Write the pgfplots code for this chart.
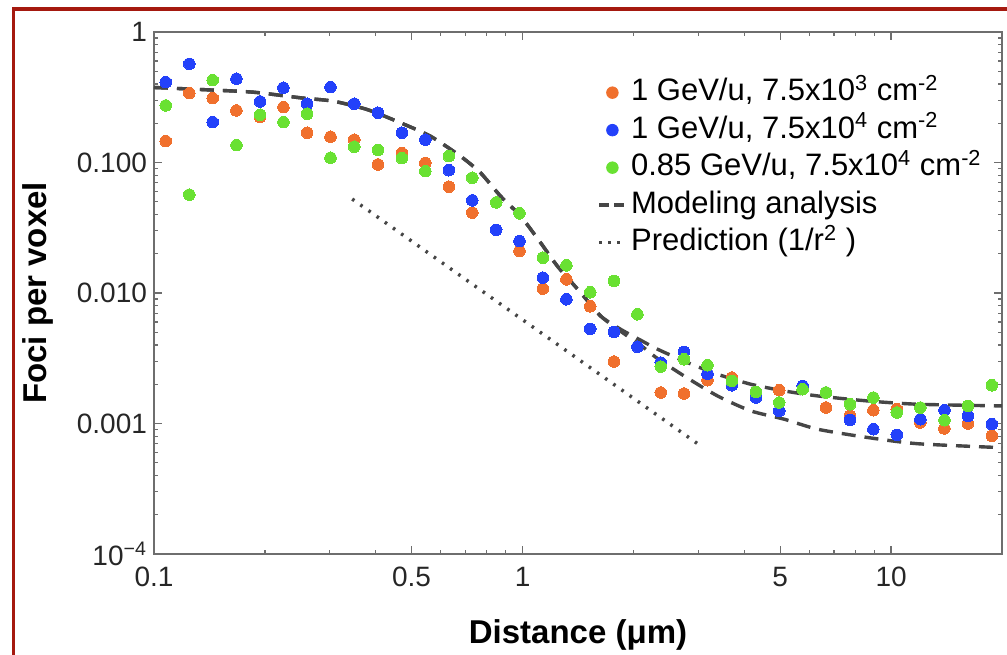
\documentclass[border=0pt]{standalone}
\usepackage{fontspec}
\setmainfont{Liberation Sans}
\usepackage{pgfplots}
\pgfplotsset{compat=1.18}
\definecolor{oC}{RGB}{240,112,45}
\definecolor{bC}{RGB}{35,65,250}
\definecolor{gC}{RGB}{105,225,50}
\definecolor{frameC}{RGB}{165,25,15}
\definecolor{lineC}{RGB}{70,70,70}
\definecolor{axC}{RGB}{110,110,110}

\pgfplotstableread{
x y
0.1076 0.1459
0.1247 0.3400
0.1443 0.3113
0.1674 0.2505
0.1941 0.2235
0.2245 0.2656
0.2604 0.1691
0.3013 0.1576
0.3495 0.1495
0.4053 0.0967
0.4707 0.1180
0.5449 0.0993
0.6313 0.0653
0.7306 0.0413
0.9814 0.02098
1.1355 0.01081
1.3153 0.01273
1.5264 0.00791
1.7704 0.002983
2.3714 0.001728
2.7438 0.001697
3.1761 0.002146
3.6976 0.002250
4.9718 0.001799
6.6584 0.001326
7.7388 0.001143
8.9514 0.001264
10.363 0.001287
12.012 0.001018
13.960 0.000916
16.159 0.001000
18.774 0.000804
}\orangedata

\pgfplotstableread{
x y
0.1076 0.4126
0.1247 0.5707
0.1443 0.2039
0.1674 0.4383
0.1941 0.2937
0.2245 0.3738
0.2604 0.2820
0.3013 0.3778
0.3495 0.2820
0.4053 0.2406
0.4707 0.1691
0.5449 0.1497
0.6313 0.0873
0.7306 0.0513
0.8484 0.03048
0.9814 0.02501
1.1355 0.01312
1.3153 0.00895
1.5264 0.00531
1.7704 0.005028
2.0498 0.003873
2.3714 0.002931
2.7438 0.003534
3.1761 0.002414
3.6976 0.001965
4.2973 0.001581
4.9718 0.001249
5.7550 0.001941
6.6584 0.001728
7.7388 0.001066
8.9514 0.000904
10.363 0.000818
12.012 0.001079
13.960 0.001264
16.159 0.001143
18.774 0.000988
}\bluedata

\pgfplotstableread{
x y
0.1076 0.2737
0.1247 0.0567
0.1443 0.4275
0.1674 0.1359
0.1941 0.2323
0.2245 0.2039
0.2604 0.2364
0.3013 0.1088
0.3495 0.1321
0.4053 0.1244
0.4707 0.1080
0.5449 0.0858
0.6313 0.1119
0.7306 0.0765
0.8484 0.0495
0.9814 0.0408
1.1355 0.01867
1.3153 0.01630
1.5264 0.01013
1.7704 0.01235
2.0498 0.00687
2.3714 0.002732
2.7438 0.003108
3.1761 0.002796
3.6976 0.002119
4.2973 0.001746
4.9718 0.001448
5.7550 0.001831
6.6584 0.001728
7.7388 0.001405
8.9514 0.001581
10.363 0.001214
12.012 0.001326
13.960 0.001060
16.159 0.001364
18.774 0.001965
}\greendata

\pgfplotstableread{
x y
0.1 0.3758
0.1334 0.3628
0.1858 0.346
0.2493 0.3134
0.3065 0.2952
0.3784 0.2550
0.4664 0.2017
0.5623 0.1592
0.6783 0.1119
0.7689 0.0835
0.8713 0.0553
0.9876 0.03887
1.1192 0.02431
1.2430 0.01609
1.4378 0.01007
1.6293 0.00666
1.846 0.005273
2.0932 0.004343
2.3274 0.003705
2.8025 0.002931
3.3815 0.002385
4.1653 0.001999
5.1299 0.001777
6.3225 0.001627
8.6437 0.001489
11.818 0.001405
20 0.001364
}\modelhigh

\pgfplotstableread{
x y
0.1 0.3758
0.1334 0.3628
0.1858 0.346
0.2493 0.3134
0.3065 0.2952
0.3784 0.2550
0.4664 0.2017
0.5623 0.1592
0.6783 0.1119
0.7689 0.0835
0.8713 0.0553
0.9876 0.03887
1.1192 0.02431
1.2430 0.01609
1.4378 0.01007
1.6293 0.00666
1.846 0.005089
2.0932 0.003978
2.2985 0.003219
2.7438 0.002314
3.3815 0.001627
4.1653 0.001249
5.1299 0.001079
6.3225 0.000904
8.6437 0.000781
11.818 0.000700
20 0.000653
}\modellow

\begin{document}
\begin{tikzpicture}
\begin{axis}[
  at={(0,0)}, anchor=south west,
  scale only axis, width=424pt, height=261pt,
  xmode=log, ymode=log,
  xmin=0.1, xmax=20, ymin=1e-4, ymax=1,
  xtick={0.1,0.5,1,5,10}, xticklabels={0.1,0.5,1,5,10},
  minor xtick={0.2,0.3,0.4,0.6,0.7,0.8,0.9,2,3,4,6,7,8,9,20},
  ytick={1e-4,1e-3,1e-2,1e-1,1},
  yticklabels={10\textsuperscript{−4},0.001,0.010,0.100,1},
  minor ytick={2e-4,3e-4,4e-4,5e-4,6e-4,7e-4,8e-4,9e-4,
               2e-3,3e-3,4e-3,5e-3,6e-3,7e-3,8e-3,9e-3,
               0.02,0.03,0.04,0.05,0.06,0.07,0.08,0.09,
               0.2,0.3,0.4,0.5,0.6,0.7,0.8,0.9},
  tick align=inside,
  major tick length=4pt, minor tick length=2.2pt,
  axis line style={draw=axC, line width=0.75pt},
  every tick/.style={axC, line width=0.6pt},
  tick label style={font=\fontsize{14}{16}\selectfont, text=black!85},
  xticklabel style={yshift=-3pt},
  xlabel={Distance (μm)}, ylabel={Foci per voxel},
  label style={font=\fontsize{16.5}{19}\selectfont\bfseries},
  xlabel style={at={(axis description cs:0.5,-0.1705)}, anchor=base},
  ylabel style={at={(axis description cs:-0.1374,0.5)}, anchor=center},
  legend style={at={(0.5157,0.921)}, anchor=north west, draw=none, fill=none,
    font=\fontsize{15.5}{18}\selectfont, row sep=3.75pt,
    nodes={text height=11.5pt, text depth=3.5pt, inner sep=0pt},
    /tikz/every odd column/.append style={column sep=2.5pt}},
  legend cell align=left,
]
\addplot[oC, only marks, mark=*, mark size=2.9pt, mark options={draw=oC, fill=oC, line width=0pt},
  legend image code/.code={\fill[oC] (6.5pt,0pt) circle (2.9pt);}]
  table[x=x,y=y] {\orangedata};
\addlegendentry{1 GeV/u, 7.5x10\textsuperscript{3} cm\textsuperscript{-2}}
\addplot[bC, only marks, mark=*, mark size=2.9pt, mark options={draw=bC, fill=bC, line width=0pt},
  legend image code/.code={\fill[bC] (6.5pt,0pt) circle (2.9pt);}]
  table[x=x,y=y] {\bluedata};
\addlegendentry{1 GeV/u, 7.5x10\textsuperscript{4} cm\textsuperscript{-2}}
\addplot[gC, only marks, mark=*, mark size=2.9pt, mark options={draw=gC, fill=gC, line width=0pt},
  legend image code/.code={\fill[gC] (6.5pt,0pt) circle (2.9pt);}]
  table[x=x,y=y] {\greendata};
\addlegendentry{0.85 GeV/u, 7.5x10\textsuperscript{4} cm\textsuperscript{-2}}
\addplot[lineC, line width=1.7pt, dash pattern=on 7pt off 4.5pt, smooth, tension=0.4,
  legend image code/.code={\draw[lineC, line width=1.7pt, dash pattern=on 5pt off 2.5pt] (0pt,0pt) -- (12.5pt,0pt);}]
  table[x=x,y=y] {\modelhigh};
\addlegendentry{Modeling analysis}
\addplot[lineC, line width=1.7pt, dash pattern=on 7pt off 4.5pt, smooth, tension=0.4, forget plot]
  table[x=x,y=y] {\modellow};
\addplot[lineC, line width=1.7pt, dash pattern=on 1.3pt off 3.7pt,
  legend image code/.code={\draw[lineC, line width=1.7pt, dash pattern=on 1.5pt off 3pt] (0pt,0pt) -- (12.5pt,0pt);}]
  coordinates {(0.345,0.0525) (3.03,0.00068)};
\addlegendentry{Prediction (1/r\textsuperscript{2} )}
\end{axis}
\draw[frameC, line width=1.7pt] (-70.15pt,-60pt) -- (-70.15pt,272.5pt) -- (440pt,272.5pt);
\pgfresetboundingbox
\path[use as bounding box] (-77pt,-50pt) rectangle (426.5pt,277pt);
\end{tikzpicture}
\end{document}
